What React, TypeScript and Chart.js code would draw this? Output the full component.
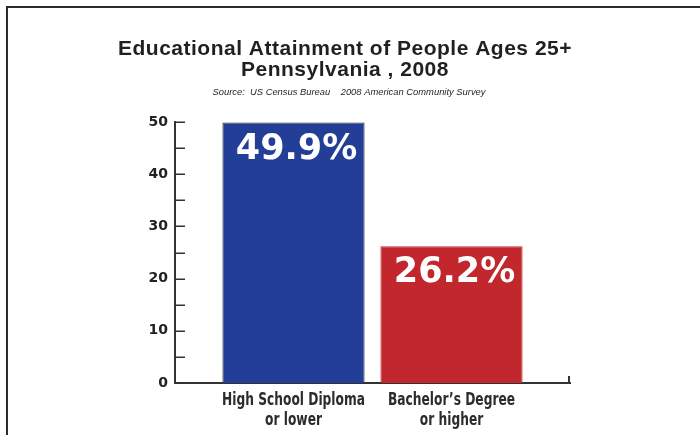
import React, { useEffect, useRef } from 'react';
import { Chart, registerables } from 'chart.js';

Chart.register(...registerables);

const categories: string[][] = [
  ['High School Diploma', 'or lower'],
  ['Bachelor\u2019s Degree', 'or higher'],
];
const values: number[] = [49.9, 26.2];
const barColors: string[] = ['#233E96', '#C1272D'];
const barBorders: string[] = ['#3a3a3a', '#C1272D'];
const titleLines: string[] = ['Educational Attainment of People Ages 25+', 'Pennsylvania , 2008'];
const sourceText = 'Source:  US Census Bureau    2008 American Community Survey';
const yMin = 0;
const yMax = 50;
const yStep = 5;
const yLabelStep = 10;

const titlePlugin = {
  id: 'titleText',
  afterDraw(chart: any) {
    const ctx = chart.ctx;
    const cx = chart.width / 2;
    ctx.save();
    ctx.fillStyle = '#231f20';
    ctx.textAlign = 'center';
    ctx.textBaseline = 'alphabetic';
    ctx.font = 'bold 21px "Liberation Sans", Arial, sans-serif';
    (ctx as any).letterSpacing = '0.5px';
    ctx.fillText(titleLines[0], cx - 5, 55);
    ctx.fillText(titleLines[1], cx - 5, 76);
    (ctx as any).letterSpacing = '0px';
    ctx.font = 'italic 9.4px "Liberation Sans", Arial, sans-serif';
    ctx.fillText(sourceText, cx - 1, 95);
    ctx.restore();
  },
};

const axisPlugin = {
  id: 'axisDecor',
  afterDraw(chart: any) {
    const ctx = chart.ctx;
    const y = chart.scales.y;
    const x = chart.scales.x;
    ctx.save();
    ctx.strokeStyle = '#333';
    ctx.lineWidth = 1.5;
    y.ticks.forEach((t: any) => {
      const py = Math.round(y.getPixelForValue(t.value)) + 0.25;
      ctx.beginPath();
      ctx.moveTo(x.left, py);
      ctx.lineTo(x.left + 10, py);
      ctx.stroke();
    });
    ctx.lineWidth = 2;
    ctx.beginPath();
    ctx.moveTo(x.right - 1, y.bottom + 1);
    ctx.lineTo(x.right - 1, y.bottom - 7);
    ctx.stroke();
    ctx.restore();

    // category labels (condensed by horizontal scaling)
    const sx = 0.68;
    categories.forEach((lines, i) => {
      const px = x.getPixelForValue(i);
      lines.forEach((ln, j) => {
        ctx.save();
        ctx.fillStyle = '#2b2b2b';
        ctx.textAlign = 'center';
        ctx.textBaseline = 'alphabetic';
        ctx.font = 'bold 18px "DejaVu Sans", sans-serif';
        ctx.translate(px, x.top + 22 + j * 20);
        ctx.scale(sx, 1);
        ctx.fillText(ln, 0, 0);
        ctx.restore();
      });
    });
  },
};

const valueLabelPlugin = {
  id: 'valueLabels',
  afterDatasetsDraw(chart: any) {
    const ctx = chart.ctx;
    const meta = chart.getDatasetMeta(0);
    ctx.save();
    ctx.fillStyle = '#ffffff';
    ctx.font = 'bold 35px "DejaVu Sans", sans-serif';
    ctx.textAlign = 'center';
    ctx.textBaseline = 'alphabetic';
    meta.data.forEach((bar: any, i: number) => {
      ctx.fillText(values[i].toFixed(1) + '%', bar.x + 3, bar.y + 36);
    });
    ctx.restore();
  },
};

function BarChart() {
  const ref = useRef<HTMLCanvasElement | null>(null);
  useEffect(() => {
    if (!ref.current) return;
    const chart = new Chart(ref.current, {
      type: 'bar',
      data: {
        datasets: [
          {
            data: values.map((v, i) => ({ x: i, y: v })),
            backgroundColor: barColors,
            borderColor: barBorders,
            borderWidth: 1,
            barPercentage: 0.9,
            categoryPercentage: 1,
          },
        ],
      },
      options: {
        responsive: true,
        maintainAspectRatio: false,
        animation: false,
        layout: { padding: { top: 122, left: 0, right: 130, bottom: 0 } },
        plugins: {
          legend: { display: false },
          tooltip: { enabled: false },
          title: { display: false },
        },
        scales: {
          x: {
            type: 'linear',
            offset: false,
            min: -0.75,
            max: categories.length - 0.25,
            afterBuildTicks: (s: any) => {
              s.ticks = categories.map((_, i) => ({ value: i }));
            },
            afterFit: (s: any) => {
              s.height = 52;
            },
            grid: { display: false, drawTicks: false, offset: false },
            border: { display: true, color: '#333', width: 2 },
            ticks: { display: false },
          },
          y: {
            min: yMin,
            max: yMax,
            afterFit: (s: any) => {
              s.width = 175;
            },
            grid: { display: false, drawTicks: false },
            border: { display: true, color: '#333', width: 2 },
            ticks: {
              stepSize: yStep,
              padding: 7,
              color: '#222',
              font: { family: '"DejaVu Sans", sans-serif', weight: 'bold', size: 14 },
              callback: (v: any) => (Number(v) % yLabelStep === 0 ? String(v) : ''),
            },
          },
        },
      },
      plugins: [titlePlugin, axisPlugin, valueLabelPlugin],
    } as any);
    return () => chart.destroy();
  }, []);
  return <canvas ref={ref} />;
}

export default function App() {
  return (
    <div style={{ position: 'absolute', left: 0, top: 0, width: 700, height: 435, background: '#fff', overflow: 'hidden' }}>
      <div style={{ position: 'absolute', left: 0, top: 0, width: 700, height: 435 }}>
        <BarChart />
      </div>
      <div
        style={{
          position: 'absolute',
          left: 6,
          top: 6,
          width: 700,
          height: 435,
          borderLeft: '2px solid #2b2b2b',
          borderTop: '2px solid #2b2b2b',
          pointerEvents: 'none',
        }}
      />
    </div>
  );
}
